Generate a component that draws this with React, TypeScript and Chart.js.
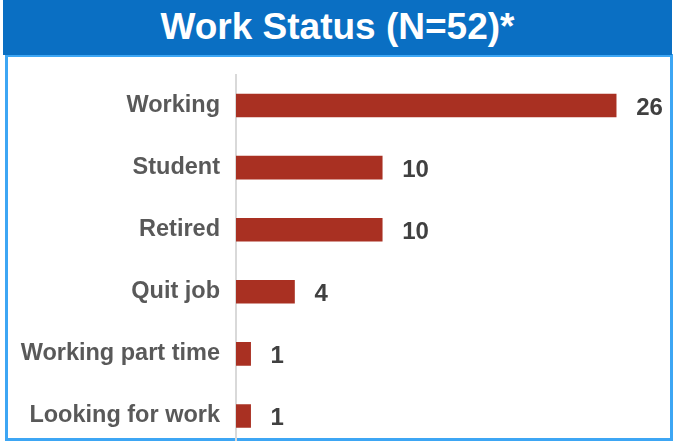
import React, { useEffect, useRef } from "react";
import { Chart, registerables } from "chart.js";

Chart.register(...registerables);

const titleText = "Work Status (N=52)*";
const categories = [
  "Working",
  "Student",
  "Retired",
  "Quit job",
  "Working part time",
  "Looking for work",
];
const counts = [26, 10, 10, 4, 1, 1];

const FONT = "'Liberation Sans', Arial, Helvetica, sans-serif";

const valueLabels = {
  id: "valueLabels",
  afterDatasetsDraw(chart: any) {
    const ctx = chart.ctx;
    const meta = chart.getDatasetMeta(0);
    ctx.save();
    ctx.font = `bold 24px ${FONT}`;
    ctx.fillStyle = "#404040";
    ctx.textAlign = "left";
    ctx.textBaseline = "alphabetic";
    meta.data.forEach((bar: any, i: number) => {
      const v = chart.data.datasets[0].data[i];
      ctx.fillText(String(v), bar.x + 20, bar.y + 9);
    });
    ctx.restore();
  },
};

export default function App() {
  const ref = useRef<HTMLCanvasElement | null>(null);

  useEffect(() => {
    if (!ref.current) return;
    const chart = new Chart(ref.current, {
      type: "bar",
      data: {
        labels: categories,
        datasets: [
          {
            data: counts,
            backgroundColor: "#A93022",
            borderWidth: 0,
            barThickness: 23,
          },
        ],
      },
      options: {
        indexAxis: "y",
        responsive: false,
        animation: false,
        layout: { padding: { top: 18.5, right: 33.6, bottom: 0, left: 0 } },
        plugins: {
          legend: { display: false },
          tooltip: { enabled: false },
          title: { display: false },
        },
        scales: {
          x: {
            display: false,
            min: 0,
            max: 28,
          },
          y: {
            grid: { display: false, drawTicks: false, tickLength: 0 },
            border: { display: true, color: "#D9D9D9", width: 2 },
            ticks: {
              color: "#595959",
              font: { family: FONT, size: 23.5, weight: "bold" },
              padding: 16,
              autoSkip: false,
            },
            afterFit(scale: any) {
              scale.width = 236;
              scale.paddingTop = 0;
              scale.paddingBottom = 0;
            },
          },
        },
      },
      plugins: [valueLabels],
    });
    return () => chart.destroy();
  }, []);

  return (
    <div
      style={{
        position: "fixed",
        left: 0,
        top: 0,
        width: 679,
        height: 441,
        overflow: "hidden",
        background: "#FFFFFF",
      }}
    >
      <div
        style={{
          position: "absolute",
          left: 5,
          top: 54,
          width: 668,
          height: 387,
          border: "3px solid #3DA6F4",
          boxSizing: "border-box",
        }}
      />
      <canvas
        ref={ref}
        width={679}
        height={391}
        style={{ position: "absolute", left: 0, top: 56, width: 679, height: 391 }}
      />
      <div
        style={{
          position: "absolute",
          left: 3,
          top: 0,
          width: 669,
          height: 55,
          background: "#0A6FC3",
          color: "#FFFFFF",
          fontFamily: FONT,
          fontWeight: "bold",
          fontSize: 37,
          lineHeight: "53px",
          textAlign: "center",
          whiteSpace: "nowrap",
        }}
      >
        {titleText}
      </div>
    </div>
  );
}
